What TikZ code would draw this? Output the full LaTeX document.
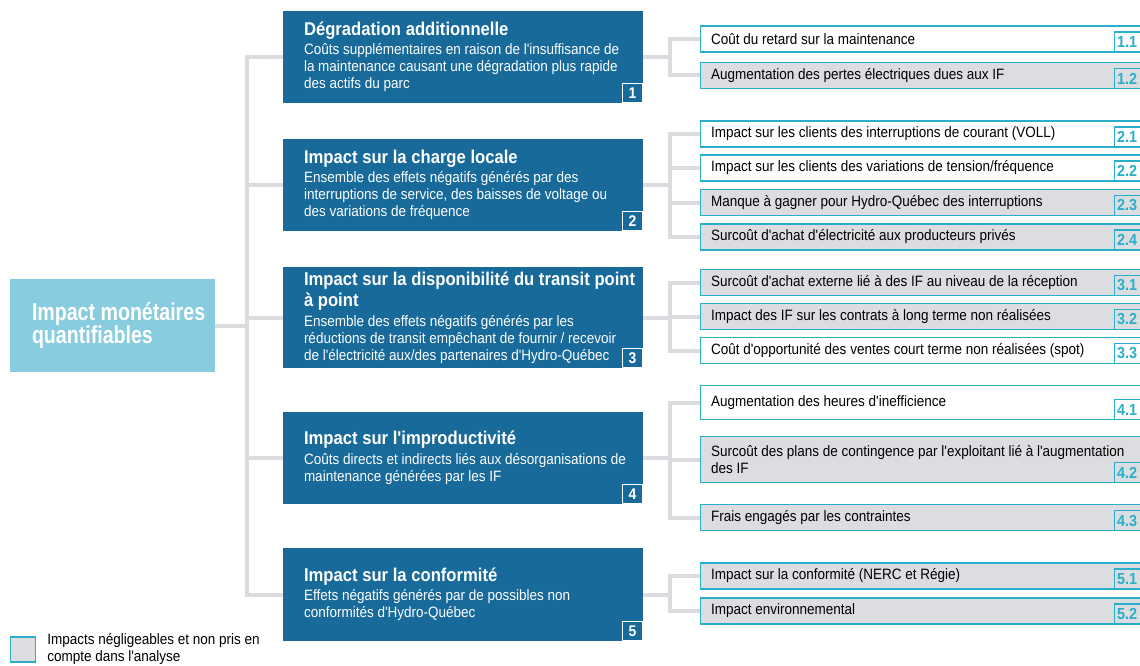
\documentclass[tikz,border=0pt]{standalone}
\usepackage{fontspec}
\setmainfont{Liberation Sans}[FakeStretch=0.9,Ligatures=TeXOff]
\newfontfamily\rootfont{Liberation Sans}[FakeStretch=0.8,Ligatures=TeXOff]
\usetikzlibrary{positioning,backgrounds}

\definecolor{hqblue}{HTML}{176A9A}
\definecolor{hqsky}{HTML}{88CDDF}
\definecolor{hqcyan}{HTML}{2AAFCB}
\definecolor{hqgrey}{HTML}{DCDDE1}
\definecolor{hqline}{HTML}{DBDCE0}
\newcommand{\midhead}[1]{{\fontsize{18.5}{20}\selectfont\bfseries #1}}

\begin{document}
\begin{tikzpicture}[x=1pt,y=-1pt,font=\fontsize{15}{17}\selectfont]
\tikzstyle{rootbox}=[fill=hqsky,minimum width=205pt,minimum height=93pt,inner sep=0pt]
\tikzstyle{roottxt}=[text=white,align=left,inner sep=0pt,
  font=\rootfont\bfseries\fontsize{24.5}{22}\selectfont]
\tikzstyle{midbox}=[fill=hqblue,minimum width=360pt,inner sep=0pt]
\tikzstyle{midtxt}=[text=white,align=left,inner sep=0pt]
\tikzstyle{midtag}=[draw=white,line width=1.2pt,anchor=south east,minimum width=20pt,
  minimum height=19pt,inner sep=0pt,text=white,font=\bfseries\fontsize{15.5}{15.5}\selectfont]
\tikzstyle{subbox}=[draw=hqcyan,line width=1.2pt,fill=white,anchor=west,minimum width=440pt,
  minimum height=26pt,text width=418pt,inner xsep=11pt,inner ysep=0pt,align=flush left]
\tikzstyle{subgrey}=[subbox,fill=hqgrey]
\tikzstyle{subtag}=[draw=hqcyan,line width=1.2pt,anchor=south east,minimum width=26pt,
  minimum height=20pt,inner sep=0pt,text=hqcyan,font=\bfseries\fontsize{16}{16}\selectfont]
\tikzstyle{link}=[draw=hqline,line width=4pt]
\tikzstyle{legbox}=[draw=hqcyan,line width=1.2pt,fill=hqgrey,minimum size=25pt,inner sep=0pt]
\tikzstyle{legtxt}=[align=left,inner sep=0pt]

\useasboundingbox (0,0) rectangle (1140,666);

% root
\node[rootbox] (root) at (112.5,325.5) {};
\node[roottxt,right=22pt of root.west] (rootlbl) {Impact monétaires\\quantifiables};

% impact families
\node[midbox,minimum height=92pt] (deg) at (463,57) {};
\node[midtxt,right=21pt of deg.west] (deglbl) {\midhead{Dégradation additionnelle}\\[2.5pt]
  Coûts supplémentaires en raison de l'insuffisance de\\
  la maintenance causant une dégradation plus rapide\\des actifs du parc};
\node[midtag] (degnum) at (deg.south east) {1};

\node[midbox,minimum height=92pt] (charge) at (463,185) {};
\node[midtxt,right=21pt of charge.west] (chargelbl) {\midhead{Impact sur la charge locale}\\[2.5pt]
  Ensemble des effets négatifs générés par des\\
  interruptions de service, des baisses de voltage ou\\des variations de fréquence};
\node[midtag] (chargenum) at (charge.south east) {2};

\node[midbox,minimum height=101pt] (transit) at (463,317.5) {};
\node[midtxt,right=21pt of transit.west] (transitlbl) {\midhead{Impact sur la disponibilité du transit point}\\[3pt]
  \midhead{à point}\\[2.5pt]
  Ensemble des effets négatifs générés par les\\
  réductions de transit empêchant de fournir / recevoir\\
  de l'électricité aux/des partenaires d'Hydro-Québec};
\node[midtag] (transitnum) at (transit.south east) {3};

\node[midbox,minimum height=92pt] (improd) at (463,458) {};
\node[midtxt,right=21pt of improd.west] (improdlbl) {\midhead{Impact sur l'improductivité}\\[2.5pt]
  Coûts directs et indirects liés aux désorganisations de\\
  maintenance générées par les IF};
\node[midtag] (improdnum) at (improd.south east) {4};

\node[midbox,minimum height=93pt] (conf) at (463,594.5) {};
\node[midtxt,right=21pt of conf.west] (conflbl) {\midhead{Impact sur la conformité}\\[2.5pt]
  Effets négatifs générés par de possibles non\\conformités d'Hydro-Québec};
\node[midtag] (confnum) at (conf.south east) {5};

% detailed items
\node[subbox] (deg1) at (699.5,39) {Coût du retard sur la maintenance};
\node[subgrey] (deg2) at (699.5,75.5) {Augmentation des pertes électriques dues aux IF};
\node[subbox] (charge1) at (699.5,134) {Impact sur les clients des interruptions de courant (VOLL)};
\node[subbox] (charge2) at (699.5,168) {Impact sur les clients des variations de tension/fréquence};
\node[subgrey] (charge3) at (699.5,202.5) {Manque à gagner pour Hydro-Québec des interruptions};
\node[subgrey] (charge4) at (699.5,237) {Surcoût d'achat d'électricité aux producteurs privés};
\node[subgrey] (transit1) at (699.5,282.5) {Surcoût d'achat externe lié à des IF au niveau de la réception};
\node[subgrey] (transit2) at (699.5,316.5) {Impact des IF sur les contrats à long terme non réalisées};
\node[subbox] (transit3) at (699.5,350.5) {Coût d'opportunité des ventes court terme non réalisées (spot)};
\node[subbox,minimum height=34pt] (improd1) at (699.5,402.5) {Augmentation des heures d'inefficience};
\node[subgrey,minimum height=46pt] (improd2) at (699.5,459.5)
  {Surcoût des plans de contingence par l'exploitant lié à l'augmentation\\des IF};
\node[subgrey] (improd3) at (699.5,517.5) {Frais engagés par les contraintes};
\node[subgrey] (conf1) at (699.5,576) {Impact sur la conformité (NERC et Régie)};
\node[subgrey] (conf2) at (699.5,611) {Impact environnemental};

\node[subtag] (deg1num) at (deg1.south east) {1.1};
\node[subtag] (deg2num) at (deg2.south east) {1.2};
\node[subtag] (charge1num) at (charge1.south east) {2.1};
\node[subtag] (charge2num) at (charge2.south east) {2.2};
\node[subtag] (charge3num) at (charge3.south east) {2.3};
\node[subtag] (charge4num) at (charge4.south east) {2.4};
\node[subtag] (transit1num) at (transit1.south east) {3.1};
\node[subtag] (transit2num) at (transit2.south east) {3.2};
\node[subtag] (transit3num) at (transit3.south east) {3.3};
\node[subtag] (improd1num) at (improd1.south east) {4.1};
\node[subtag] (improd2num) at (improd2.south east) {4.2};
\node[subtag] (improd3num) at (improd3.south east) {4.3};
\node[subtag] (conf1num) at (conf1.south east) {5.1};
\node[subtag] (conf2num) at (conf2.south east) {5.2};

% tree links
\begin{scope}[on background layer]
\draw[link] (root.east) -- ++(32,0) |- (deg.west);
\draw[link] (root.east) -- ++(32,0) |- (charge.west);
\draw[link] (root.east) -- ++(32,0) |- (transit.west);
\draw[link] (root.east) -- ++(32,0) |- (improd.west);
\draw[link] (root.east) -- ++(32,0) |- (conf.west);

\draw[link] (deg.east) -- ++(27,0) |- (deg1.west);
\draw[link] (deg.east) -- ++(27,0) |- (deg2.west);
\draw[link] (charge.east) -- ++(27,0) |- (charge1.west);
\draw[link] (charge.east) -- ++(27,0) |- (charge2.west);
\draw[link] (charge.east) -- ++(27,0) |- (charge3.west);
\draw[link] (charge.east) -- ++(27,0) |- (charge4.west);
\draw[link] (transit.east) -- ++(27,0) |- (transit1.west);
\draw[link] (transit.east) -- ++(27,0) |- (transit2.west);
\draw[link] (transit.east) -- ++(27,0) |- (transit3.west);
\draw[link] (improd.east) -- ++(27,0) |- (improd1.west);
\draw[link] (improd.east) -- ++(27,0) |- (improd2.west);
\draw[link] (improd.east) -- ++(27,0) |- (improd3.west);
\draw[link] (conf.east) -- ++(27,0) |- (conf1.west);
\draw[link] (conf.east) -- ++(27,0) |- (conf2.west);
\end{scope}

% legend
\node[legbox] (leg) at (23,649.5) {};
\node[legtxt,right=11pt of leg.east] (leglbl) {Impacts négligeables et non pris en\\compte dans l'analyse};
\end{tikzpicture}
\end{document}
